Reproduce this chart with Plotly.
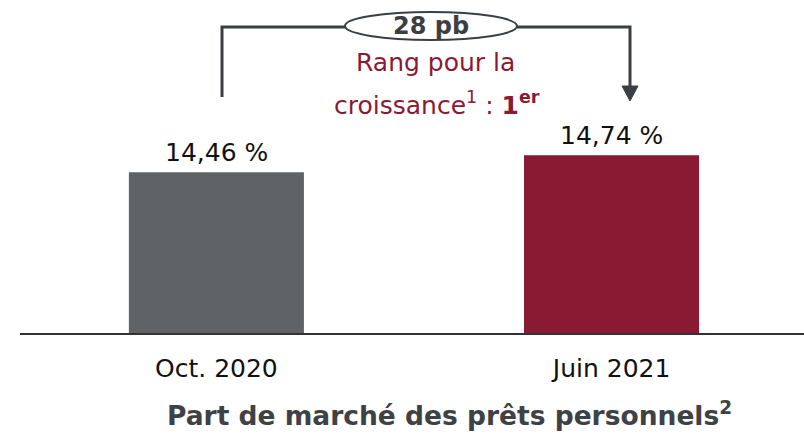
import plotly.graph_objects as go

categories = ['Oct. 2020', 'Juin 2021']
values = [14.46, 14.74]
value_labels = ['14,46 %', '14,74 %']
bar_colors = ['#5f6366', '#8a1a33']

W, H = 804, 437
L, R, T, B = 20, 0, 0, 104
PW, PH = W - L - R, H - T - B

FONT = 'DejaVu Sans, Liberation Sans, Arial, sans-serif'
DARK = '#3b3f43'
MAROON = '#8a1a33'


def px(x):
    return (x - L) / PW


def py(y):
    return (H - B - y) / PH


def note(x, y, text, size, color):
    fig.add_annotation(x=px(x), y=py(y), xref='paper', yref='paper', text=text,
                       showarrow=False, xanchor='center', yanchor='middle',
                       font=dict(family=FONT, size=size, color=color))


fig = go.Figure()
fig.add_trace(go.Bar(
    x=categories,
    y=values,
    marker=dict(color=bar_colors, line=dict(width=0)),
    width=0.443,
    hoverinfo='skip',
))

# value labels above bars
for c, v, t in zip(categories, values, value_labels):
    fig.add_annotation(x=c, y=v, text=t, showarrow=False, xref='x', yref='y',
                       xanchor='center', yanchor='bottom', yshift=3,
                       font=dict(family=FONT, size=25, color='#111111'))

# bracket + arrow
shapes = [
    dict(type='path', xref='paper', yref='paper',
         path=f'M {px(222)},{py(97)} L {px(222)},{py(27)} L {px(630)},{py(27)} L {px(630)},{py(88)}',
         line=dict(color=DARK, width=3)),
    dict(type='path', xref='paper', yref='paper',
         path=f'M {px(622)},{py(86)} L {px(638)},{py(86)} L {px(630)},{py(101)} Z',
         fillcolor=DARK, line=dict(color=DARK, width=1)),
    dict(type='circle', xref='paper', yref='paper',
         x0=px(345), x1=px(517), y0=py(40), y1=py(12),
         fillcolor='white', line=dict(color=DARK, width=2)),
]
fig.update_layout(shapes=shapes)

note(431, 26, '<b>28 pb</b>', 24, DARK)
note(435, 62, 'Rang pour la', 25, MAROON)
note(437, 103, 'croissance<sup>1</sup> : <b>1<sup>er</sup></b>', 25, MAROON)

# x axis title
note(449, 414, '<b>Part de marché des prêts personnels<sup>2</sup></b>', 26.5, '#3f4245')

fig.update_layout(
    width=W, height=H,
    margin=dict(l=L, r=R, t=T, b=B),
    plot_bgcolor='white', paper_bgcolor='white',
    showlegend=False,
    xaxis=dict(range=[-0.497, 1.487], showgrid=False, zeroline=False,
               showline=True, linecolor='#333333', linewidth=1.5,
               ticks='', ticklabelstandoff=12,
               tickfont=dict(family=FONT, size=25, color='#111111')),
    yaxis=dict(range=[11.81, 11.81 + PH / 60.7], visible=False, showgrid=False),
)

fig.write_html('out.html', config={'displayModeBar': False},
               post_script="document.body.style.margin='0';")
